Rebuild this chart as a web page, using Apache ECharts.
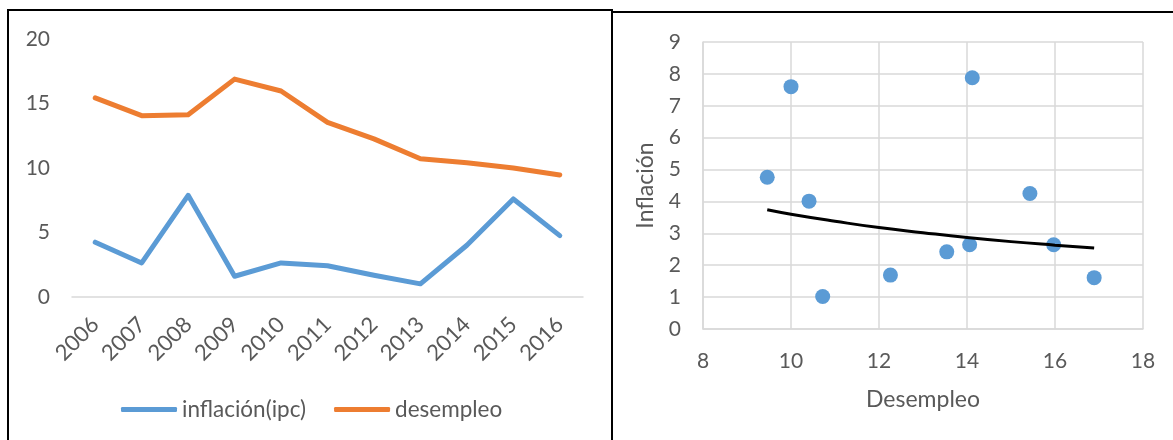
<!DOCTYPE html>
<html lang="es" style="height: 100%">

<head>
  <meta charset="utf-8">
  <style>
    html,
    body {
      margin: 0;
      padding: 0;
      width: 100%;
      height: 100%;
      overflow: hidden;
      background: #fff;
    }
  </style>
</head>

<body>
  <div id="container" style="height: 100%;width: 100%;"></div>

  <script type="text/javascript" src="https://cdn.jsdelivr.net/npm/echarts@6/dist/echarts.min.js"></script>
  <script type="text/javascript">

    var dom = document.getElementById('container');
    var myChart = echarts.init(dom, null, { renderer: 'canvas' });

    var fontFamily = 'Lato';
    var textColor = '#595959';
    var gridColor = '#D9D9D9';
    let color = ['#5B9BD5', '#ED7D31'];

    // datos
    let years = ['2006', '2007', '2008', '2009', '2010', '2011', '2012', '2013', '2014', '2015', '2016'];
    let inflacion = [4.25, 2.64, 7.88, 1.61, 2.64, 2.42, 1.69, 1.02, 4.01, 7.6, 4.76];
    let desempleo = [15.43, 14.06, 14.12, 16.89, 15.97, 13.54, 12.26, 10.72, 10.41, 10.0, 9.46];
    let legendItem = ['inflación(ipc)', 'desempleo'];
    // línea de tendencia (desempleo, inflación)
    let trendX = [9.46, 10, 11, 12, 13, 14, 15, 16, 16.89];
    let trendY = [3.74, 3.6, 3.38, 3.18, 3.02, 2.87, 2.74, 2.63, 2.54];

    let scatterData = desempleo.map((d, i) => [d, inflacion[i]]);
    let trendData = trendX.map((d, i) => [d, trendY[i]]);

    var labelStyle = { color: textColor, fontFamily: fontFamily, fontSize: 21 };

    var option = {
      animation: false,
      color: color,
      textStyle: { fontFamily: fontFamily },
      graphic: [
        {
          type: 'rect',
          shape: { x: 8, y: 10, width: 604, height: 460 },
          style: { fill: 'none', stroke: '#000', lineWidth: 2 }
        },
        {
          type: 'rect',
          shape: { x: 612, y: 12, width: 600, height: 460 },
          style: { fill: 'none', stroke: '#000', lineWidth: 2 }
        }
      ],
      legend: {
        data: legendItem,
        left: 116,
        top: 393,
        icon: 'roundRect',
        itemWidth: 56,
        itemHeight: 5,
        itemGap: 28,
        textStyle: { color: textColor, fontFamily: fontFamily, fontSize: 22.5 }
      },
      grid: [
        { left: 72, top: 39, width: 511, height: 258 },
        { left: 703, top: 42, width: 440, height: 287 }
      ],
      xAxis: [{
        type: 'category',
        gridIndex: 0,
        data: years,
        boundaryGap: true,
        axisTick: { show: false },
        axisLine: { lineStyle: { color: gridColor, width: 1.5 } },
        axisLabel: Object.assign({}, labelStyle, { rotate: 45, margin: 24, interval: 0, fontSize: 22 })
      }, {
        type: 'value',
        gridIndex: 1,
        min: 8,
        max: 18,
        interval: 2,
        name: 'Desempleo',
        nameLocation: 'middle',
        nameGap: 59,
        nameTextStyle: { color: textColor, fontFamily: fontFamily, fontSize: 23 },
        axisTick: { show: false },
        axisLine: { show: true, lineStyle: { color: gridColor, width: 1.5 } },
        splitLine: { show: true, lineStyle: { color: gridColor, width: 1.5 } },
        axisLabel: Object.assign({ margin: 22 }, labelStyle)
      }],
      yAxis: [{
        type: 'value',
        gridIndex: 0,
        min: 0,
        max: 20,
        interval: 5,
        axisLine: { show: false },
        axisTick: { show: false },
        splitLine: { show: false },
        axisLabel: Object.assign({ margin: 22 }, labelStyle)
      }, {
        type: 'value',
        gridIndex: 1,
        min: 0,
        max: 9,
        interval: 1,
        name: 'Inflación',
        nameLocation: 'middle',
        nameGap: 46,
        nameTextStyle: { color: textColor, fontFamily: fontFamily, fontSize: 23 },
        axisTick: { show: false },
        axisLine: { show: true, lineStyle: { color: gridColor, width: 1.5 } },
        splitLine: { show: true, lineStyle: { color: gridColor, width: 1.5 } },
        axisLabel: Object.assign({ margin: 22 }, labelStyle)
      }],
      series: [{
        name: legendItem[0],
        type: 'line',
        xAxisIndex: 0,
        yAxisIndex: 0,
        showSymbol: false,
        symbol: 'none',
        lineStyle: { width: 5, color: color[0], cap: 'round', join: 'round' },
        itemStyle: { color: color[0] },
        data: inflacion
      }, {
        name: legendItem[1],
        type: 'line',
        xAxisIndex: 0,
        yAxisIndex: 0,
        showSymbol: false,
        symbol: 'none',
        lineStyle: { width: 5, color: color[1], cap: 'round', join: 'round' },
        itemStyle: { color: color[1] },
        data: desempleo
      }, {
        name: 'puntos',
        type: 'scatter',
        xAxisIndex: 1,
        yAxisIndex: 1,
        symbolSize: 15,
        itemStyle: { color: color[0], opacity: 1 },
        data: scatterData
      }, {
        name: 'tendencia',
        type: 'line',
        xAxisIndex: 1,
        yAxisIndex: 1,
        smooth: true,
        symbol: 'none',
        z: 5,
        lineStyle: { width: 3, color: '#000' },
        data: trendData
      }]
    };

    myChart.setOption(option);
    window.addEventListener('resize', myChart.resize);

  </script>
</body>

</html>
